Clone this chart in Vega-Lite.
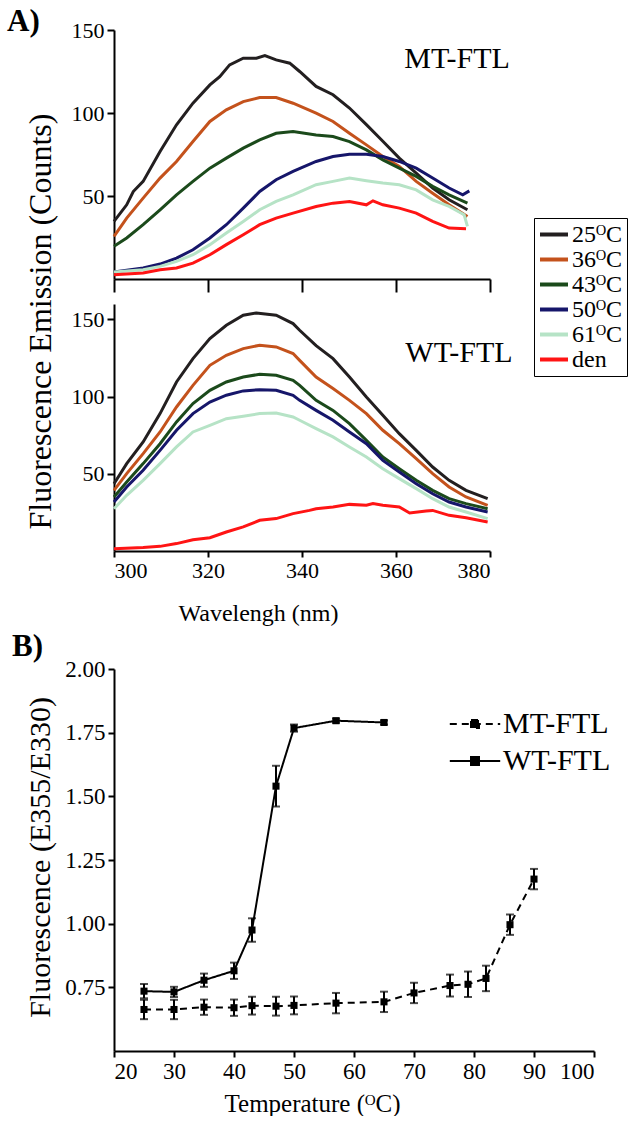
{
"$schema":"https://vega.github.io/schema/vega-lite/v6.json",
"padding":{"left":7,"top":6,"right":0,"bottom":0},
"background":"white",
"datasets":{
"mt":[
{"t":"25ᴼC","wl":300,"v":34.7},{"t":"25ᴼC","wl":302.7,"v":44.7},{"t":"25ᴼC","wl":304.1,"v":52.7},{"t":"25ᴼC","wl":306.2,"v":58.8},{"t":"25ᴼC","wl":309.8,"v":76.8},{"t":"25ᴼC","wl":313.3,"v":92.9},{"t":"25ᴼC","wl":316.8,"v":105.9},{"t":"25ᴼC","wl":320.4,"v":116.9},{"t":"25ᴼC","wl":322.5,"v":121.9},{"t":"25ᴼC","wl":324.6,"v":129},{"t":"25ᴼC","wl":327.5,"v":133},{"t":"25ᴼC","wl":330.3,"v":133},{"t":"25ᴼC","wl":332.1,"v":134.6},{"t":"25ᴼC","wl":334.5,"v":132},{"t":"25ᴼC","wl":337.4,"v":130},{"t":"25ᴼC","wl":339.5,"v":125},{"t":"25ᴼC","wl":343,"v":116},{"t":"25ᴼC","wl":346.6,"v":111},{"t":"25ᴼC","wl":350.1,"v":103},{"t":"25ᴼC","wl":353.7,"v":93},{"t":"25ᴼC","wl":357.2,"v":83},{"t":"25ᴼC","wl":360.7,"v":72.8},{"t":"25ᴼC","wl":364.3,"v":63.8},{"t":"25ᴼC","wl":367.8,"v":54.8},{"t":"25ᴼC","wl":371.3,"v":47.7},{"t":"25ᴼC","wl":375.2,"v":41.7},
{"t":"36ᴼC","wl":300,"v":25.7},{"t":"36ᴼC","wl":302.7,"v":36.7},{"t":"36ᴼC","wl":306.2,"v":48.7},{"t":"36ᴼC","wl":309.8,"v":60.8},{"t":"36ᴼC","wl":313.3,"v":70.8},{"t":"36ᴼC","wl":316.8,"v":82.8},{"t":"36ᴼC","wl":320.4,"v":94.9},{"t":"36ᴼC","wl":323.9,"v":101.9},{"t":"36ᴼC","wl":327.5,"v":106.9},{"t":"36ᴼC","wl":331,"v":109.3},{"t":"36ᴼC","wl":334.5,"v":109.3},{"t":"36ᴼC","wl":338.1,"v":105.9},{"t":"36ᴼC","wl":343,"v":99.9},{"t":"36ᴼC","wl":346.6,"v":94.9},{"t":"36ᴼC","wl":350.1,"v":87.8},{"t":"36ᴼC","wl":353.7,"v":80.8},{"t":"36ᴼC","wl":357.2,"v":73.8},{"t":"36ᴼC","wl":360.7,"v":67.8},{"t":"36ᴼC","wl":364.3,"v":58.8},{"t":"36ᴼC","wl":367.8,"v":51.7},{"t":"36ᴼC","wl":371.3,"v":44.7},{"t":"36ᴼC","wl":375.2,"v":37.7},
{"t":"43ᴼC","wl":300,"v":19.7},{"t":"43ᴼC","wl":302.7,"v":24.7},{"t":"43ᴼC","wl":306.2,"v":32.7},{"t":"43ᴼC","wl":309.8,"v":41.7},{"t":"43ᴼC","wl":313.3,"v":50.7},{"t":"43ᴼC","wl":316.8,"v":58.8},{"t":"43ᴼC","wl":320.4,"v":66.8},{"t":"43ᴼC","wl":323.9,"v":72.8},{"t":"43ᴼC","wl":327.5,"v":78.8},{"t":"43ᴼC","wl":331,"v":83.8},{"t":"43ᴼC","wl":334.5,"v":87.8},{"t":"43ᴼC","wl":338.1,"v":88.8},{"t":"43ᴼC","wl":343,"v":86.8},{"t":"43ᴼC","wl":346.6,"v":85.8},{"t":"43ᴼC","wl":350.1,"v":82.8},{"t":"43ᴼC","wl":353.7,"v":77.8},{"t":"43ᴼC","wl":357.2,"v":71.8},{"t":"43ᴼC","wl":360.7,"v":66.8},{"t":"43ᴼC","wl":364.3,"v":61.8},{"t":"43ᴼC","wl":367.8,"v":55.8},{"t":"43ᴼC","wl":371.3,"v":50.7},{"t":"43ᴼC","wl":375.2,"v":45.7},
{"t":"50ᴼC","wl":300,"v":4.2},{"t":"50ᴼC","wl":306.2,"v":6.6},{"t":"50ᴼC","wl":309.8,"v":9},{"t":"50ᴼC","wl":313.3,"v":12.6},{"t":"50ᴼC","wl":316.8,"v":17.6},{"t":"50ᴼC","wl":320.4,"v":24.7},{"t":"50ᴼC","wl":323.9,"v":32.7},{"t":"50ᴼC","wl":327.5,"v":42.7},{"t":"50ᴼC","wl":331,"v":52.7},{"t":"50ᴼC","wl":334.5,"v":59.8},{"t":"50ᴼC","wl":338.1,"v":64.8},{"t":"50ᴼC","wl":343,"v":70.8},{"t":"50ᴼC","wl":346.6,"v":73.8},{"t":"50ᴼC","wl":350.1,"v":75.2},{"t":"50ᴼC","wl":353.7,"v":75.2},{"t":"50ᴼC","wl":357.2,"v":73.8},{"t":"50ᴼC","wl":360.7,"v":70.8},{"t":"50ᴼC","wl":364.3,"v":66.8},{"t":"50ᴼC","wl":367.8,"v":60.8},{"t":"50ᴼC","wl":371.3,"v":54.8},{"t":"50ᴼC","wl":374.2,"v":50.7},{"t":"50ᴼC","wl":375.6,"v":53.1},
{"t":"61ᴼC","wl":300,"v":4.2},{"t":"61ᴼC","wl":306.2,"v":5.6},{"t":"61ᴼC","wl":309.8,"v":7.6},{"t":"61ᴼC","wl":313.3,"v":10.6},{"t":"61ᴼC","wl":316.8,"v":14.6},{"t":"61ᴼC","wl":320.4,"v":20.7},{"t":"61ᴼC","wl":323.9,"v":27.7},{"t":"61ᴼC","wl":327.5,"v":34.7},{"t":"61ᴼC","wl":331,"v":41.7},{"t":"61ᴼC","wl":334.5,"v":46.7},{"t":"61ᴼC","wl":338.1,"v":50.7},{"t":"61ᴼC","wl":343,"v":56.8},{"t":"61ᴼC","wl":346.6,"v":58.8},{"t":"61ᴼC","wl":350.1,"v":60.8},{"t":"61ᴼC","wl":353.7,"v":59.2},{"t":"61ᴼC","wl":357.2,"v":57.8},{"t":"61ᴼC","wl":360.7,"v":56.8},{"t":"61ᴼC","wl":364.3,"v":53.7},{"t":"61ᴼC","wl":367.8,"v":47.7},{"t":"61ᴼC","wl":371.3,"v":43.7},{"t":"61ᴼC","wl":374.5,"v":38.7},{"t":"61ᴼC","wl":375.2,"v":31.7},
{"t":"den","wl":300,"v":2.6},{"t":"den","wl":306.2,"v":3.6},{"t":"den","wl":309.8,"v":5.6},{"t":"den","wl":313.3,"v":6.6},{"t":"den","wl":316.8,"v":9.6},{"t":"den","wl":320.4,"v":14.6},{"t":"den","wl":323.9,"v":20.7},{"t":"den","wl":327.5,"v":26.7},{"t":"den","wl":331,"v":32.7},{"t":"den","wl":334.5,"v":36.7},{"t":"den","wl":338.1,"v":39.7},{"t":"den","wl":343,"v":43.7},{"t":"den","wl":346.6,"v":45.7},{"t":"den","wl":350.1,"v":46.7},{"t":"den","wl":353.7,"v":44.7},{"t":"den","wl":355.1,"v":47.1},{"t":"den","wl":357.2,"v":44.7},{"t":"den","wl":360.7,"v":42.7},{"t":"den","wl":364.3,"v":39.7},{"t":"den","wl":367.8,"v":34.7},{"t":"den","wl":371.3,"v":30.7},{"t":"den","wl":374.9,"v":30.3}
],
"wt":[
{"t":"25ᴼC","wl":300,"v":43.6},{"t":"25ᴼC","wl":302.7,"v":56.6},{"t":"25ᴼC","wl":306.2,"v":70.6},{"t":"25ᴼC","wl":309.8,"v":89},{"t":"25ᴼC","wl":313.3,"v":109.5},{"t":"25ᴼC","wl":316.8,"v":124.6},{"t":"25ᴼC","wl":320.4,"v":137.6},{"t":"25ᴼC","wl":323.9,"v":146.2},{"t":"25ᴼC","wl":327.5,"v":152.7},{"t":"25ᴼC","wl":330.3,"v":154.2},{"t":"25ᴼC","wl":334.5,"v":152.7},{"t":"25ᴼC","wl":338.1,"v":147.3},{"t":"25ᴼC","wl":339.5,"v":143},{"t":"25ᴼC","wl":343,"v":133},{"t":"25ᴼC","wl":346.6,"v":124.6},{"t":"25ᴼC","wl":350.1,"v":112.7},{"t":"25ᴼC","wl":353.7,"v":99.8},{"t":"25ᴼC","wl":357.2,"v":87.9},{"t":"25ᴼC","wl":360.7,"v":76},{"t":"25ᴼC","wl":364.3,"v":65.2},{"t":"25ᴼC","wl":367.8,"v":54.4},{"t":"25ᴼC","wl":371.3,"v":45.8},{"t":"25ᴼC","wl":374.9,"v":39.3},{"t":"25ᴼC","wl":379.5,"v":33.9},
{"t":"36ᴼC","wl":300,"v":39.3},{"t":"36ᴼC","wl":302.7,"v":50.1},{"t":"36ᴼC","wl":306.2,"v":63.1},{"t":"36ᴼC","wl":309.8,"v":77.1},{"t":"36ᴼC","wl":313.3,"v":93.3},{"t":"36ᴼC","wl":316.8,"v":107.3},{"t":"36ᴼC","wl":320.4,"v":120.3},{"t":"36ᴼC","wl":323.9,"v":126.8},{"t":"36ᴼC","wl":327.5,"v":131.1},{"t":"36ᴼC","wl":331,"v":133.3},{"t":"36ᴼC","wl":334.5,"v":132.2},{"t":"36ᴼC","wl":338.1,"v":127.9},{"t":"36ᴼC","wl":339.5,"v":123.5},{"t":"36ᴼC","wl":343,"v":112.7},{"t":"36ᴼC","wl":346.6,"v":105.2},{"t":"36ᴼC","wl":350.1,"v":97.6},{"t":"36ᴼC","wl":353.7,"v":89},{"t":"36ᴼC","wl":357.2,"v":78.2},{"t":"36ᴼC","wl":360.7,"v":69.5},{"t":"36ᴼC","wl":364.3,"v":59.8},{"t":"36ᴼC","wl":367.8,"v":50.1},{"t":"36ᴼC","wl":371.3,"v":41.5},{"t":"36ᴼC","wl":374.9,"v":35},{"t":"36ᴼC","wl":379.5,"v":29.6},
{"t":"43ᴼC","wl":300,"v":35},{"t":"43ᴼC","wl":302.7,"v":44.7},{"t":"43ᴼC","wl":306.2,"v":56.6},{"t":"43ᴼC","wl":309.8,"v":69.5},{"t":"43ᴼC","wl":313.3,"v":83.6},{"t":"43ᴼC","wl":316.8,"v":95.5},{"t":"43ᴼC","wl":320.4,"v":104.1},{"t":"43ᴼC","wl":323.9,"v":109.5},{"t":"43ᴼC","wl":327.5,"v":112.7},{"t":"43ᴼC","wl":331,"v":114.5},{"t":"43ᴼC","wl":334.5,"v":113.8},{"t":"43ᴼC","wl":338.1,"v":110.6},{"t":"43ᴼC","wl":339.5,"v":107.3},{"t":"43ᴼC","wl":343,"v":97.6},{"t":"43ᴼC","wl":346.6,"v":91.1},{"t":"43ᴼC","wl":350.1,"v":82.5},{"t":"43ᴼC","wl":353.7,"v":71.7},{"t":"43ᴼC","wl":357.2,"v":60.9},{"t":"43ᴼC","wl":360.7,"v":53.3},{"t":"43ᴼC","wl":364.3,"v":45.8},{"t":"43ᴼC","wl":367.8,"v":39.3},{"t":"43ᴼC","wl":371.3,"v":33.9},{"t":"43ᴼC","wl":374.9,"v":30.7},{"t":"43ᴼC","wl":379.5,"v":27.4},
{"t":"50ᴼC","wl":300,"v":31.7},{"t":"50ᴼC","wl":302.7,"v":41.5},{"t":"50ᴼC","wl":306.2,"v":52.3},{"t":"50ᴼC","wl":309.8,"v":65.2},{"t":"50ᴼC","wl":313.3,"v":78.2},{"t":"50ᴼC","wl":316.8,"v":89},{"t":"50ᴼC","wl":320.4,"v":96.5},{"t":"50ᴼC","wl":323.9,"v":100.9},{"t":"50ᴼC","wl":327.5,"v":103.7},{"t":"50ᴼC","wl":331,"v":104.5},{"t":"50ᴼC","wl":334.5,"v":104.1},{"t":"50ᴼC","wl":338.1,"v":100.9},{"t":"50ᴼC","wl":339.5,"v":97.6},{"t":"50ᴼC","wl":343,"v":91.1},{"t":"50ᴼC","wl":346.6,"v":84.7},{"t":"50ᴼC","wl":350.1,"v":77.1},{"t":"50ᴼC","wl":353.7,"v":69.5},{"t":"50ᴼC","wl":357.2,"v":58.7},{"t":"50ᴼC","wl":360.7,"v":51.2},{"t":"50ᴼC","wl":364.3,"v":43.6},{"t":"50ᴼC","wl":367.8,"v":37.1},{"t":"50ᴼC","wl":371.3,"v":31.7},{"t":"50ᴼC","wl":374.9,"v":28.5},{"t":"50ᴼC","wl":379.5,"v":25.3},
{"t":"61ᴼC","wl":300,"v":27.4},{"t":"61ᴼC","wl":302.7,"v":36.1},{"t":"61ᴼC","wl":306.2,"v":45.8},{"t":"61ᴼC","wl":309.8,"v":56.6},{"t":"61ᴼC","wl":313.3,"v":67.4},{"t":"61ᴼC","wl":316.8,"v":77.1},{"t":"61ᴼC","wl":320.4,"v":81.4},{"t":"61ᴼC","wl":323.9,"v":85.7},{"t":"61ᴼC","wl":327.5,"v":87.3},{"t":"61ᴼC","wl":331,"v":89},{"t":"61ᴼC","wl":334.5,"v":89.4},{"t":"61ᴼC","wl":338.1,"v":86.8},{"t":"61ᴼC","wl":339.5,"v":84.7},{"t":"61ᴼC","wl":343,"v":79.3},{"t":"61ᴼC","wl":346.6,"v":73.9},{"t":"61ᴼC","wl":350.1,"v":67.4},{"t":"61ᴼC","wl":353.7,"v":60.9},{"t":"61ᴼC","wl":357.2,"v":53.3},{"t":"61ᴼC","wl":360.7,"v":46.9},{"t":"61ᴼC","wl":364.3,"v":40.4},{"t":"61ᴼC","wl":367.8,"v":33.9},{"t":"61ᴼC","wl":371.3,"v":28.5},{"t":"61ᴼC","wl":374.9,"v":25.3},{"t":"61ᴼC","wl":379.5,"v":21},
{"t":"den","wl":300,"v":1.5},{"t":"den","wl":306.2,"v":2.2},{"t":"den","wl":309.8,"v":3},{"t":"den","wl":313.3,"v":4.8},{"t":"den","wl":316.8,"v":7.3},{"t":"den","wl":320.4,"v":8.6},{"t":"den","wl":323.9,"v":12.3},{"t":"den","wl":327.5,"v":15.6},{"t":"den","wl":331,"v":19.9},{"t":"den","wl":334.5,"v":21},{"t":"den","wl":338.1,"v":24.2},{"t":"den","wl":341.6,"v":26.3},{"t":"den","wl":343,"v":27.4},{"t":"den","wl":346.6,"v":28.5},{"t":"den","wl":350.1,"v":30.2},{"t":"den","wl":353.7,"v":29.6},{"t":"den","wl":355.1,"v":30.7},{"t":"den","wl":357.2,"v":29.6},{"t":"den","wl":360.7,"v":28.5},{"t":"den","wl":362.9,"v":24.6},{"t":"den","wl":366.4,"v":25.9},{"t":"den","wl":367.8,"v":26.3},{"t":"den","wl":371.3,"v":23.1},{"t":"den","wl":374.9,"v":21.6},{"t":"den","wl":379.5,"v":18.8}
],
"b":[
{"p":"WT-FTL","T":25,"r":0.735,"e":0.028},{"p":"WT-FTL","T":30,"r":0.732,"e":0.02},{"p":"WT-FTL","T":35,"r":0.778,"e":0.026},{"p":"WT-FTL","T":40,"r":0.815,"e":0.032},{"p":"WT-FTL","T":43,"r":0.975,"e":0.046},{"p":"WT-FTL","T":47,"r":1.54,"e":0.08},{"p":"WT-FTL","T":50,"r":1.768,"e":0.014},{"p":"WT-FTL","T":57,"r":1.797,"e":0.008},{"p":"WT-FTL","T":65,"r":1.79,"e":0.008},
{"p":"MT-FTL","T":25,"r":0.663,"e":0.038},{"p":"MT-FTL","T":30,"r":0.663,"e":0.038},{"p":"MT-FTL","T":35,"r":0.672,"e":0.03},{"p":"MT-FTL","T":40,"r":0.67,"e":0.032},{"p":"MT-FTL","T":43,"r":0.678,"e":0.035},{"p":"MT-FTL","T":47,"r":0.676,"e":0.037},{"p":"MT-FTL","T":50,"r":0.679,"e":0.035},{"p":"MT-FTL","T":57,"r":0.688,"e":0.04},{"p":"MT-FTL","T":65,"r":0.693,"e":0.04},{"p":"MT-FTL","T":70,"r":0.728,"e":0.04},{"p":"MT-FTL","T":76,"r":0.757,"e":0.043},{"p":"MT-FTL","T":79,"r":0.762,"e":0.05},{"p":"MT-FTL","T":82,"r":0.785,"e":0.05},{"p":"MT-FTL","T":86,"r":0.996,"e":0.04},{"p":"MT-FTL","T":90,"r":1.175,"e":0.04}
]
},
"vconcat":[
{
"width":376,"height":521,
"title":{"text":"A)","anchor":"start","frame":"group","dx":-107,"dy":43,"offset":0,"fontSize":31,"fontWeight":"bold","baseline":"alphabetic","font":"Liberation Serif"},
"layer":[
{"data":{"name":"mt"},
 "encoding":{
  "x":{"field":"wl","type":"quantitative","scale":{"domain":[300,380]},"axis":{"orient":"bottom","offset":-272,"values":[300,320,340,360,380],"labels":false,"tickSize":13,"title":null}},
  "y":{"field":"v","type":"quantitative","scale":{"domain":[0,150],"range":[249,0]},"axis":{"orient":"left","values":[50,100,150],"tickSize":7,"labelFont":"Liberation Serif","labelFontSize":22,"labelPadding":3,"title":"Fluorescence Emission (Counts)","titleFont":"Liberation Serif","titleFontSize":32,"titleX":-64,"titleY":291,"titleAngle":-90,"titleBaseline":"alphabetic","titleAlign":"center"}}
 },
 "layer":[
  {"mark":{"type":"line","strokeWidth":3},
   "encoding":{"color":{"field":"t","type":"nominal","scale":{"domain":["25ᴼC","36ᴼC","43ᴼC","50ᴼC","61ᴼC","den"],"range":["#231f20","#c4521c","#1b4a1b","#16166a","#b6e3c6","#ff1414"]},
     "legend":{"orient":"none","legendX":420,"legendY":188,"title":null,"symbolType":"stroke","symbolSize":784,"symbolStrokeWidth":4,"labelFont":"Liberation Serif","labelFontSize":24,"labelOffset":2,"clipHeight":25,"rowPadding":0,"padding":4,"strokeColor":"black","fillColor":"white"}}}},
  {"data":{"values":[{"wl":373,"v":127,"lab":"MT-FTL"}]},"mark":{"type":"text","fontSize":30,"align":"center","baseline":"alphabetic","color":"black","font":"Liberation Serif"},"encoding":{"text":{"field":"lab"}}}
 ]},
{"data":{"name":"wt"},
 "encoding":{
  "x":{"field":"wl","type":"quantitative","scale":{"domain":[300,380]},"axis":{"orient":"bottom","values":[300,320,340,360,380],"tickSize":6,"labelFont":"Liberation Serif","labelFontSize":22,"labelPadding":3,"title":"Wavelengh (nm)","titleFont":"Liberation Serif","titleFontSize":24,"titleX":144,"titleY":69,"titleBaseline":"alphabetic","titleAlign":"center"}},
  "y":{"field":"v","type":"quantitative","scale":{"domain":[0,160],"range":[521,274]},"axis":{"orient":"left","values":[50,100,150],"tickSize":7,"labelFont":"Liberation Serif","labelFontSize":22,"labelPadding":3,"title":null}}
 },
 "layer":[
  {"mark":{"type":"line","strokeWidth":3},"encoding":{"color":{"field":"t","type":"nominal"}}},
  {"data":{"values":[{"wl":373.4,"v":122.5,"lab":"WT-FTL"}]},"mark":{"type":"text","fontSize":30,"align":"center","baseline":"alphabetic","color":"black","font":"Liberation Serif"},"encoding":{"text":{"field":"lab"}}}
 ]}
],
"resolve":{"scale":{"y":"independent"},"axis":{"x":"independent","y":"independent"}}
},
{
"width":480,"height":382,
"title":{"text":"B)","anchor":"start","frame":"group","dx":-102,"dy":29,"offset":0,"fontSize":31,"fontWeight":"bold","baseline":"alphabetic","font":"Liberation Serif"},
"data":{"name":"b"},
"encoding":{
 "x":{"field":"T","type":"quantitative","scale":{"domain":[20,100]},"axis":{"values":[20,30,40,50,60,70,80,90,100],"tickSize":6,"labelFont":"Liberation Serif","labelFontSize":23,"labelPadding":3,"title":"Temperature (ᴼC)","titleFont":"Liberation Serif","titleFontSize":25,"titleX":198,"titleY":60,"titleBaseline":"alphabetic","titleAlign":"center"}},
 "y":{"field":"r","type":"quantitative","scale":{"domain":[0.5,2]},"axis":{"values":[0.75,1,1.25,1.5,1.75,2],"format":".2f","tickSize":6,"labelFont":"Liberation Serif","labelFontSize":23,"labelPadding":3,"title":"Fluorescence (E355/E330)","titleFont":"Liberation Serif","titleFontSize":30,"titleX":-65,"titleY":188,"titleAngle":-90,"titleBaseline":"alphabetic","titleAlign":"center"}}
},
"layer":[
 {"mark":{"type":"line","color":"black","strokeWidth":2},
  "encoding":{"strokeDash":{"field":"p","type":"nominal","scale":{"domain":["MT-FTL","WT-FTL"],"range":[[7,5],[1,0]]},
   "legend":{"orient":"none","legendX":339,"legendY":33,"title":null,"symbolType":"M-1.2,0H1.2M-0.19,-0.19H0.19V0.19H-0.19Z","symbolSize":1764,"symbolStrokeWidth":2,"symbolStrokeColor":"black","symbolFillColor":"black","labelFont":"Liberation Serif","labelFontSize":30,"labelOffset":6,"rowPadding":0,"padding":0}}}},
 {"mark":{"type":"errorbar","color":"black","ticks":{"size":8,"thickness":2},"rule":{"strokeWidth":2}},"encoding":{"yError":{"field":"e"},"detail":{"field":"p"}}},
 {"mark":{"type":"point","shape":"square","filled":true,"size":50,"color":"black","opacity":1},"encoding":{"detail":{"field":"p"}}}
]
}
],
"spacing":6,
"resolve":{"scale":{"color":"independent","strokeDash":"independent"},"legend":{"color":"independent","strokeDash":"independent"}},
"config":{
 "font":"Liberation Serif",
 "view":{"stroke":null},
 "style":{"guide-label":{"font":"Liberation Serif"},"guide-title":{"font":"Liberation Serif"}},
 "axis":{"grid":false,"domainColor":"black","domainWidth":2,"tickColor":"black","tickWidth":2,"labelColor":"black","titleColor":"black","titleFontWeight":"normal"},
 "legend":{"labelColor":"black"},
 "title":{"color":"black"}
}
}
